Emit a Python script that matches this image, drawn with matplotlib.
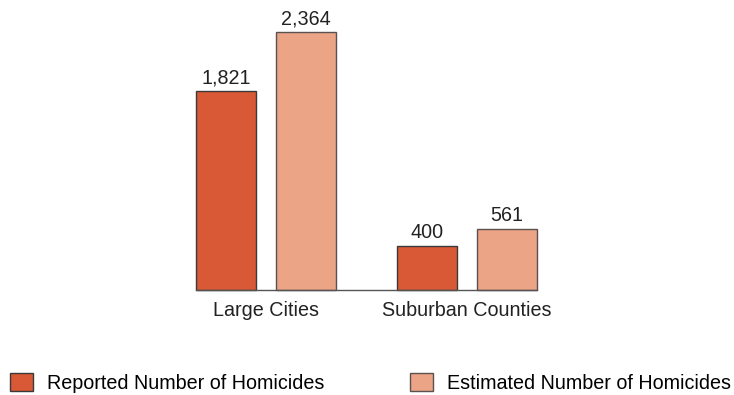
import matplotlib.pyplot as plt
from matplotlib.patches import Patch

plt.rcParams['font.family'] = ['Liberation Sans', 'DejaVu Sans']

categories = ["Large Cities", "Suburban Counties"]
reported = [1821, 400]
estimated = [2364, 561]
series_names = ["Reported Number of Homicides", "Estimated Number of Homicides"]
colors = ["#D95835", "#EBA586"]

fs = 14.2

fig = plt.figure(figsize=(7.34, 3.95), dpi=100)
ax = fig.add_axes([196 / 734, 105 / 395, 341 / 734, 273 / 395])

x = list(range(len(categories)))
w = 0.3
b1 = ax.bar([i - 0.2 for i in x], reported, w, color=colors[0], edgecolor="#3a3a3a",
            linewidth=1, clip_on=False)
b2 = ax.bar([i + 0.2 for i in x], estimated, w, color=colors[1], edgecolor="#5a5050",
            linewidth=1, clip_on=False)

for bars in (b1, b2):
    for r in bars:
        v = r.get_height()
        ax.text(r.get_x() + r.get_width() / 2, v + 35, f"{v:,.0f}",
                ha="center", va="bottom", fontsize=fs, color="#222222")

ax.set_xlim(-0.35, 1.35)
ax.set_ylim(0, 2500)
ax.set_xticks(x)
ax.set_xticklabels(categories, fontsize=fs, color="#222222")
ax.tick_params(axis="x", length=0, pad=8)
ax.set_yticks([])
for s in ("top", "right", "left"):
    ax.spines[s].set_visible(False)
ax.spines["bottom"].set_color("#555555")
ax.spines["bottom"].set_linewidth(1)

# legend entries, one per column
handles = [Patch(facecolor=colors[0], edgecolor="#3a3a3a"),
           Patch(facecolor=colors[1], edgecolor="#5a5050")]
for h, name, x0 in zip(handles, series_names, (10, 410)):
    fig.legend([h], [name], loc="center left", bbox_to_anchor=(x0 / 734, 12 / 395),
               frameon=False, fontsize=fs, handlelength=1.15, handleheight=1.0,
               handletextpad=0.75, borderpad=0, borderaxespad=0)

fig.savefig("out.png", dpi=100)
